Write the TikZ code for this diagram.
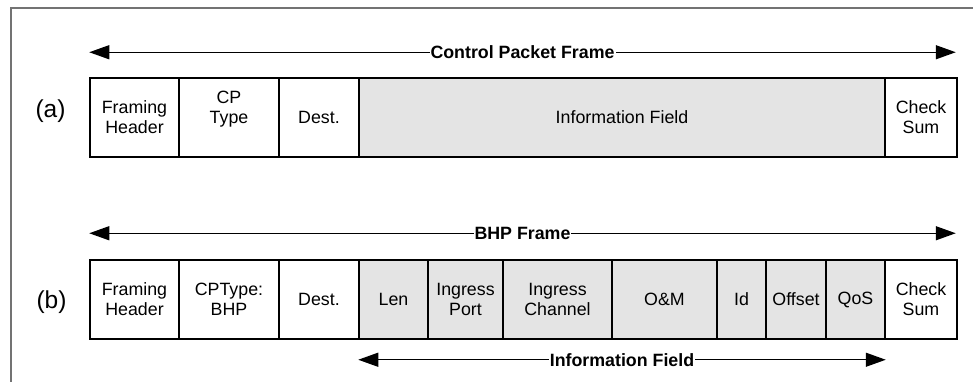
\documentclass[tikz,border=0pt]{standalone}
\usepackage{fontspec}
\setmainfont{Liberation Sans}
\usetikzlibrary{positioning,arrows.meta}
\definecolor{infogray}{HTML}{E4E4E4}
\definecolor{framegray}{HTML}{737373}
\tikzset{%
  every field/.style={
    rectangle,
    draw,
    line width=1.5pt,
    minimum height=79pt,
    inner sep=1pt,
    align=center,
    font=\fontsize{17.8}{20}\selectfont
  },
  field head/.style={
    fill=white
  },
  field info/.style={
    fill=infogray
  },
  span/.style={
    {Triangle[length=20pt,width=14pt]}-{Triangle[length=20pt,width=14pt]},
    line width=1.3pt
  },
  span label/.style={
    fill=white,
    inner sep=1pt,
    font=\fontsize{17.8}{20}\selectfont\bfseries
  },
  row label/.style={
    font=\fontsize{24.5}{28}\selectfont
  },
}
\begin{document}
\begin{tikzpicture}[x=1pt, y=-1pt]
\useasboundingbox (0,0) rectangle (973,382);
\draw[framegray, line width=2pt] (11,390) -- (11,8) -- (980,8);

% Control packet frame
\foreach \s/\a/\b/\t [count=\i] in {head/90/179/Framing\\Header, head/179/279/CP\\Type\\\mbox{}, head/279/359/Dest., info/359/885/Information Field, head/885/957/Check\\Sum}
  \node [every field/.try, field \s/.try, minimum width=\b-\a] (a-\i) at ({(\a+\b)/2},117.5) {\t};

% BHP frame
\foreach \s/\a/\b/\t [count=\i] in {head/90/179/Framing\\Header, head/179/279/CPType:\\BHP, head/279/359/Dest., info/359/428/Len, info/428/503/Ingress\\Port, info/503/612/Ingress\\Channel, info/612/717/O\&M, info/717/766/Id, info/766/826/Offset, info/826/885/QoS, head/885/957/Check\\Sum}
  \node [every field/.try, field \s/.try, minimum width=\b-\a] (b-\i) at ({(\a+\b)/2},299.5) {\t};

\node [row label] (lab-a) at (50.5,111) {(a)};
\node [row label] (lab-b) at (51.5,302) {(b)};

% ALL OF THE SPANS
\coordinate [above=25pt of a-1.north west] (cpf-l);
\coordinate [above=25pt of a-5.north east, xshift=-2pt] (cpf-r);
\draw [span] (cpf-l) -- node [span label] (cpf) {Control Packet Frame} (cpf-r);

\coordinate [above=26pt of b-1.north west] (bhp-l);
\coordinate [above=26pt of b-11.north east, xshift=-2pt] (bhp-r);
\draw [span] (bhp-l) -- node [span label] (bhp) {BHP Frame} (bhp-r);

\coordinate [below=20pt of b-4.south west] (inf-l);
\coordinate [below=20pt of b-10.south east] (inf-r);
\draw [span] (inf-l) -- node [span label] (inf) {Information Field} (inf-r);

\end{tikzpicture}
\end{document}
